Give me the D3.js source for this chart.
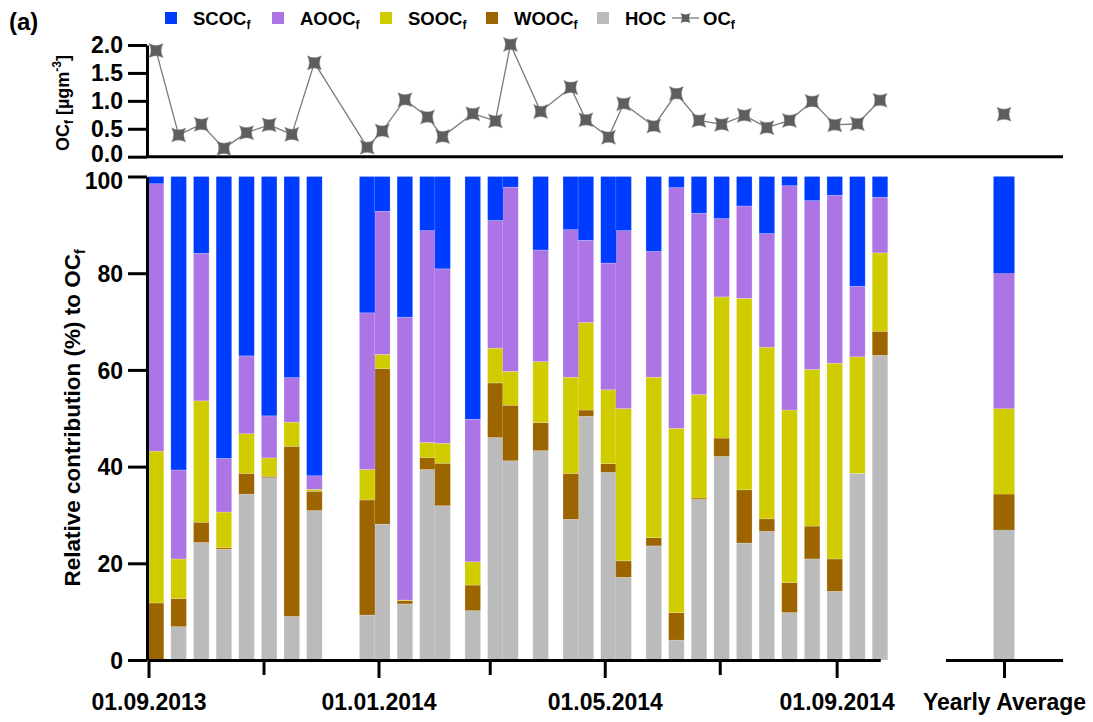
<!DOCTYPE html>
<html>
<head>
<meta charset="utf-8">
<script src="https://cdn.jsdelivr.net/npm/d3@7"></script>
<style>
  body { margin: 0; background: #fff; }
  svg { font-family: "Liberation Sans", Arial, sans-serif; font-weight: bold; }
</style>
</head>
<body>
<script>
// sampling dates (bar centres)
const sampleDates = ["2013-09-05","2013-09-17","2013-09-29","2013-10-11","2013-10-23","2013-11-04","2013-11-16","2013-11-28",
  "2013-12-26","2014-01-03","2014-01-15","2014-01-27","2014-02-04","2014-02-20","2014-03-04","2014-03-12",
  "2014-03-28","2014-04-13","2014-04-21","2014-05-03","2014-05-11","2014-05-27","2014-06-08","2014-06-20",
  "2014-07-02","2014-07-14","2014-07-26","2014-08-07","2014-08-19","2014-08-31","2014-09-12","2014-09-24"];

// relative contributions (%) to OCf
const HOC  = [0,6.9,24.3,22.9,34.3,37.7,9.0,30.9, 9.3,28.1,11.6,39.4,31.9,10.2,46.0,41.2, 43.3,29.1,50.4,38.8,17.1,23.6,4.1,33.2, 42.1,24.2,26.6,9.8,20.9,14.2,38.6,63.0];
const WOOC = [11.8,5.8,4.2,0.3,4.3,0.3,35.2,4.0, 23.8,32.2,0.7,2.5,8.8,5.3,11.3,11.5, 5.8,9.5,1.3,1.8,3.4,1.7,5.7,0.3, 3.8,11.0,2.6,6.2,6.8,6.7,0,5.0];
const SOOC = [31.4,8.2,25.1,7.4,8.2,3.8,5.0,0.4, 6.3,2.9,0.1,3.1,4.1,4.8,7.2,7.0, 12.6,19.9,18.1,15.3,31.5,33.2,38.1,21.4, 29.2,39.6,35.5,35.7,32.4,40.5,24.1,16.2];
const AOOC = [55.3,18.4,30.5,11.1,16.1,8.7,9.2,2.8, 32.4,29.6,58.5,43.8,36.1,29.5,26.4,38.1, 23.1,30.5,17.0,26.2,36.8,26.0,49.8,37.5, 16.2,19.1,23.5,46.4,34.9,34.7,14.6,11.5];
const SCOC = [1.5,60.7,15.9,58.3,37.1,49.5,41.6,61.9, 28.2,7.2,29.1,11.2,19.1,50.2,9.1,2.2, 15.2,11.0,13.2,17.9,11.2,15.5,2.3,7.6, 8.7,6.1,11.8,1.9,5.0,3.9,22.7,4.3];

// OCf concentration (µg m-3)
const OCf = [1.90,0.39,0.58,0.15,0.43,0.57,0.40,1.68, 0.17,0.46,1.02,0.71,0.36,0.77,0.64,2.01,
  0.81,1.24,0.66,0.35,0.95,0.55,1.13,0.65, 0.58,0.74,0.52,0.65,0.99,0.57,0.59,1.01];

const yearlyLabel = "Yearly Average";
const yearlyShares = {HOC: 26.9, WOOC: 7.4, SOOC: 17.7, AOOC: 28.0, SCOC: 20.0};
const yearlyOC = 0.76;

const keys = ["HOC", "WOOC", "SOOC", "AOOC", "SCOC"];
const legendNames = ["SCOC", "AOOC", "SOOC", "WOOC", "HOC"];
const colors = {SCOC: "#003cff", AOOC: "#ad74e6", SOOC: "#d0cc00", WOOC: "#9c6500", HOC: "#bbbbbb"};

const majorTicks = ["2013-09-01", "2014-01-01", "2014-05-01", "2014-09-01"];
const minorTicks = ["2013-11-01", "2014-03-01", "2014-07-01"];

const parse = d3.timeParse("%Y-%m-%d");
const rows = sampleDates.map((d, i) => ({date: parse(d), HOC: HOC[i], WOOC: WOOC[i], SOOC: SOOC[i], AOOC: AOOC[i], SCOC: SCOC[i], oc: OCf[i]}));

const W = 1093, H = 722;
const svg = d3.select("body").append("svg").attr("width", W).attr("height", H);

const x = d3.scaleTime().domain([parse("2013-09-01"), parse("2014-09-24")]).range([148.5, 880]);
const xAvg = d3.scalePoint().domain([yearlyLabel]).range([945.5, 1062.5]).padding(0.5);
const y = d3.scaleLinear().domain([0, 100]).range([660, 176.5]);
const yTop = d3.scaleLinear().domain([0, 2]).range([156.7, 45]);
const barW = 15.6, avgW = 21;

// stacked bars
const series = d3.stack().keys(keys)(rows);
svg.append("g").selectAll("g").data(series).enter().append("g")
    .attr("fill", s => colors[s.key])
  .selectAll("rect").data(s => s).enter().append("rect")
    .attr("x", d => x(d.data.date) - barW / 2)
    .attr("width", barW)
    .attr("y", d => y(d[1]))
    .attr("height", d => y(d[0]) - y(d[1]))
    .attr("stroke", "#fff").attr("stroke-opacity", 0.35).attr("stroke-width", 0.6);

const avgStack = d3.stack().keys(keys)([yearlyShares]);
svg.append("g").selectAll("rect").data(avgStack).enter().append("rect")
    .attr("fill", s => colors[s.key])
    .attr("x", xAvg(yearlyLabel) - avgW / 2)
    .attr("width", avgW)
    .attr("y", s => y(s[0][1]))
    .attr("height", s => y(s[0][0]) - y(s[0][1]));

// axes
function styleAxis(g) {
  g.select(".domain").attr("stroke", "#000").attr("stroke-width", 3);
  g.selectAll(".tick line").attr("stroke", "#000").attr("stroke-width", 3);
  g.selectAll(".tick text").attr("font-size", 23).attr("font-weight", "bold").attr("fill", "#000")
    .attr("font-family", "Liberation Sans, Arial, sans-serif");
}

svg.append("g").attr("transform", "translate(147,0)")
  .call(d3.axisLeft(y).tickValues([0, 20, 40, 60, 80, 100]).tickSize(19).tickPadding(5).tickSizeOuter(0))
  .call(styleAxis)
  .selectAll(".tick text").attr("dy", d => d === 100 ? "0.5em" : "0.36em");

svg.append("g").attr("transform", "translate(147,0)")
  .call(d3.axisLeft(yTop).tickValues([0, 0.5, 1, 1.5, 2]).tickFormat(d3.format(".1f")).tickSize(19).tickPadding(5).tickSizeOuter(0))
  .call(styleAxis)
  .selectAll(".tick text").attr("dy", d => d === 0 ? "0.22em" : "0.32em");

// bottom axis, time part
svg.append("g").attr("transform", "translate(0,660)")
  .call(d3.axisBottom(x).tickValues(majorTicks.map(parse)).tickFormat(d3.timeFormat("%d.%m.%Y")).tickSize(18).tickPadding(16).tickSizeOuter(0))
  .call(styleAxis);
svg.append("g").attr("transform", "translate(0,660)")
  .call(d3.axisBottom(x).tickValues(minorTicks.map(parse)).tickFormat("").tickSize(15).tickSizeOuter(0))
  .call(styleAxis);

// bottom axis, yearly average part
svg.append("g").attr("transform", "translate(0,660)")
  .call(d3.axisBottom(xAvg).tickSize(18).tickPadding(16).tickSizeOuter(0))
  .call(styleAxis);

// top panel baseline
svg.append("line").attr("x1", 147).attr("x2", 1063).attr("y1", yTop(0)).attr("y2", yTop(0))
  .attr("stroke", "#000").attr("stroke-width", 3);

// OCf line + markers
const star = r => `M${-r},${-r}Q0,${-r * 0.45} ${r},${-r}Q${r * 0.45},0 ${r},${r}Q0,${r * 0.45} ${-r},${r}Q${-r * 0.45},0 ${-r},${-r}Z`;

svg.append("path").datum(rows)
  .attr("fill", "none").attr("stroke", "#7a7a7a").attr("stroke-width", 1.3)
  .attr("d", d3.line().x(d => x(d.date)).y(d => yTop(d.oc)));

svg.append("g").selectAll("path").data(rows).enter().append("path")
  .attr("transform", d => `translate(${x(d.date)},${yTop(d.oc)})`)
  .attr("d", star(7)).attr("fill", "#5e5e5e").attr("stroke", "#888").attr("stroke-width", 0.5);

svg.append("path")
  .attr("transform", `translate(${xAvg(yearlyLabel)},${yTop(yearlyOC)})`)
  .attr("d", star(7)).attr("fill", "#5e5e5e").attr("stroke", "#888").attr("stroke-width", 0.5);

// y axis titles
const t1 = svg.append("text").attr("transform", "translate(80,418) rotate(-90)")
  .attr("text-anchor", "middle").attr("font-size", 22.5);
t1.append("tspan").text("Relative contribution (%) to OC");
t1.append("tspan").attr("font-size", 14).attr("dy", 5).text("f");

const t2 = svg.append("text").attr("transform", "translate(69,103) rotate(-90)")
  .attr("text-anchor", "middle").attr("font-size", 18);
t2.append("tspan").text("OC");
t2.append("tspan").attr("font-size", 12).attr("dy", 4).text("f");
t2.append("tspan").attr("dy", -4).text(" [µgm");
t2.append("tspan").attr("font-size", 12).attr("dy", -8).text("-3");
t2.append("tspan").attr("dy", 8).text("]");

// panel label
svg.append("text").attr("x", 9).attr("y", 30).attr("font-size", 24).text("(a)");

// legend
const legendX = [193, 300, 408, 514, 625];
const leg = svg.append("g");
legendNames.forEach((k, i) => {
  leg.append("rect").attr("x", legendX[i] - 28).attr("y", 12).attr("width", 12).attr("height", 12).attr("fill", colors[k]);
  const t = leg.append("text").attr("x", legendX[i]).attr("y", 25).attr("font-size", 18.5);
  t.append("tspan").text(k);
  if (k !== "HOC") t.append("tspan").attr("font-size", 12).attr("dy", 4).text("f");
});
leg.append("line").attr("x1", 672).attr("x2", 699).attr("y1", 18).attr("y2", 18).attr("stroke", "#7a7a7a").attr("stroke-width", 1.3);
leg.append("path").attr("transform", "translate(685.5,18)").attr("d", star(5)).attr("fill", "#5e5e5e");
const tl = leg.append("text").attr("x", 703).attr("y", 25).attr("font-size", 18.5);
tl.append("tspan").text("OC");
tl.append("tspan").attr("font-size", 12).attr("dy", 4).text("f");
</script>
</body>
</html>
